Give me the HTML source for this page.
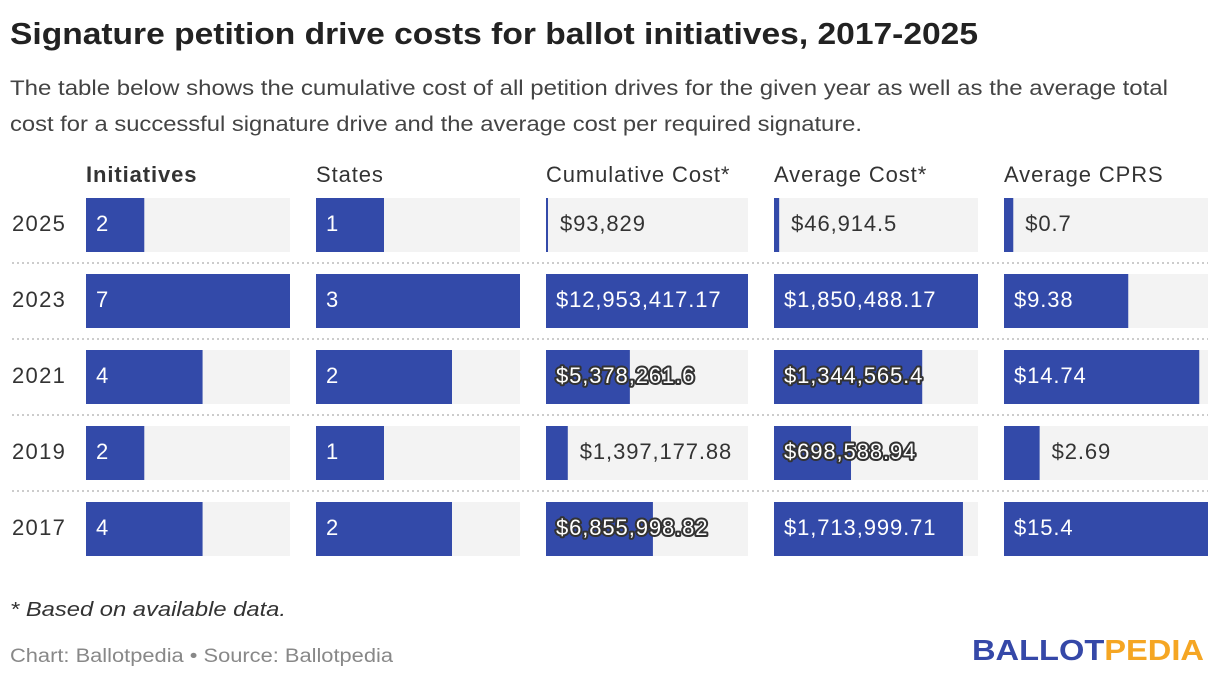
<!DOCTYPE html>
<html><head><meta charset="utf-8"><style>
body{margin:0;background:#fff;width:1220px;height:678px;overflow:hidden;font-family:"Liberation Sans",sans-serif;color:#333}
</style></head><body>
<svg id="c" width="1220" height="678" xmlns="http://www.w3.org/2000/svg" style="font-family:'Liberation Sans',sans-serif">
<text x="10" y="44" font-size="31" font-weight="bold" fill="#222" textLength="968" lengthAdjust="spacingAndGlyphs">Signature petition drive costs for ballot initiatives, 2017-2025</text>
<text x="10" y="95" font-size="21" fill="#444" textLength="1158" lengthAdjust="spacingAndGlyphs">The table below shows the cumulative cost of all petition drives for the given year as well as the average total</text>
<text x="10" y="131" font-size="21" fill="#444" textLength="852" lengthAdjust="spacingAndGlyphs">cost for a successful signature drive and the average cost per required signature.</text>
<text x="10" y="616" font-size="20" font-style="italic" fill="#333" textLength="276" lengthAdjust="spacingAndGlyphs">* Based on available data.</text>
<text x="10" y="662" font-size="19" fill="#888" textLength="383" lengthAdjust="spacingAndGlyphs">Chart: Ballotpedia • Source: Ballotpedia</text>
<text x="972" y="660" font-size="29" font-weight="bold" textLength="232" lengthAdjust="spacingAndGlyphs"><tspan fill="#3548a8">BALLOT</tspan><tspan fill="#f5a623">PEDIA</tspan></text>
<g id="g"></g>
</svg>
<script>
const years=["2025","2023","2021","2019","2017"];
const columns=["Initiatives","States","Cumulative Cost*","Average Cost*","Average CPRS"];
const initiatives=[2,7,4,2,4];
const states=[1,3,2,1,2];
const cumulative=[93829,12953417.17,5378261.6,1397177.88,6855998.82];
const average=[46914.5,1850488.17,1344565.4,698588.94,1713999.71];
const cprs=[0.7,9.38,14.74,2.69,15.4];
const labels=[
 ["2","7","4","2","4"],["1","3","2","1","2"],
 ["$93,829","$12,953,417.17","$5,378,261.6","$1,397,177.88","$6,855,998.82"],
 ["$46,914.5","$1,850,488.17","$1,344,565.4","$698,588.94","$1,713,999.71"],
 ["$0.7","$9.38","$14.74","$2.69","$15.4"]];
const series=[initiatives,states,cumulative,average,cprs];
const colX=[86,316,546,774,1004],colW=[204,204,202,204,204];
const rowY=i=>198+i*76,barH=54;
const NS="http://www.w3.org/2000/svg",g=document.getElementById('g');
function mk(t,a){const e=document.createElementNS(NS,t);for(const k in a)e.setAttribute(k,a[k]);g.appendChild(e);return e;}
columns.forEach((c,j)=>{const t=mk('text',{x:colX[j],y:182,'font-size':22,fill:'#333','letter-spacing':0.9,'font-weight':j==0?'bold':'normal'});t.textContent=c;

});
years.forEach((y,i)=>{
 const yy=rowY(i);
 const t=mk('text',{x:12,y:yy+33,'font-size':22,fill:'#333','letter-spacing':1.3});t.textContent=y;
 
 
 if(i<years.length-1){const l=mk('line',{x1:12,x2:1208,y1:yy+65,y2:yy+65,stroke:'#ccc','stroke-width':2,'stroke-dasharray':'2 3'});
 
 }
 series.forEach((s,j)=>{
  const mx=Math.max(...s),w=Math.max(2,s[i]/mx*colW[j]);
  const bg=mk('rect',{x:colX[j],y:yy,width:colW[j],height:barH,fill:'#f3f3f3'});
  
  
  const b=mk('rect',{x:colX[j],y:yy,width:w,height:barH,fill:'#334aa9'});
  
  
  const lab=labels[j][i],tw=lab.length*12.2;
  let a={y:yy+33,'font-size':22,'letter-spacing':0.9};
  if(tw+20<w){a.x=colX[j]+10;a.fill='#fff';}
  else if(w<40){a.x=colX[j]+w+12;a.fill='#333';}
  else{a.x=colX[j]+10;a.fill='#fff';a.stroke='#333';a['stroke-width']=4;a['paint-order']='stroke';a['stroke-linejoin']='round';}
  const v=mk('text',a);v.textContent=lab;
  
  
 });
});
</script>
</body></html>
